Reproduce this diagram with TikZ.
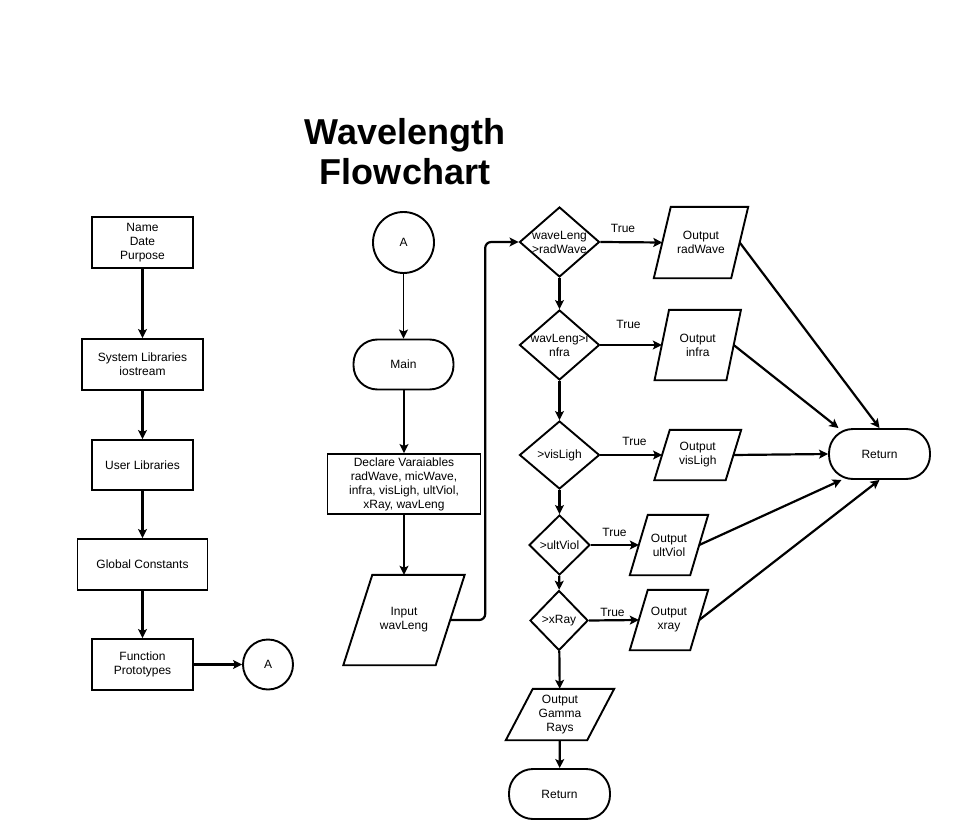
\documentclass[tikz,border=0pt]{standalone}
\usepackage{fontspec}
\setmainfont{Liberation Sans}
\usetikzlibrary{shapes.geometric,arrows.meta,calc}
\begin{document}
\begin{tikzpicture}[x=1pt,y=-1pt,
  every node/.style={font=\fontsize{12}{14}\selectfont, align=center},
  ln/.style={line width=1.9pt},
  box/.style={draw, ln, rectangle, inner sep=0pt},
  term/.style={draw, ln, rounded corners=24pt, minimum width=101pt, minimum height=50pt, inner sep=0pt},
  conn/.style={draw, ln, circle, inner sep=0pt},
  dec/.style={draw, ln, diamond, inner sep=0pt},
  io/.style={rectangle, inner sep=0pt},
  arr/.style={line width=2.2pt, -{Stealth[length=9pt,width=9pt,inset=2pt]}},
  lbl/.style={inner sep=0pt},
]
\path[fill=white, use as bounding box] (0,0) rectangle (956,840);

% title
\node[font=\bfseries\fontsize{36}{40}\selectfont] (title) at (405,152) {Wavelength\\Flowchart};

% left column
\node[box, minimum width=101pt, minimum height=51pt] (name) at (142.5,242.5) {Name\\Date\\Purpose};
\node[box, minimum width=121pt, minimum height=51pt] (sys) at (142.5,364.5) {System Libraries\\iostream};
\node[box, minimum width=101pt, minimum height=50pt] (usr) at (142.5,465) {User Libraries};
\node[box, minimum width=130pt, minimum height=51pt] (glob) at (142.5,564.5) {Global Constants};
\node[box, minimum width=101pt, minimum height=51pt] (func) at (142.5,664.5) {Function\\Prototypes};
\node[conn, minimum size=50pt] (a1) at (268,664.5) {A};

\draw[arr] (name) -- (sys);
\draw[arr] (sys) -- (usr);
\draw[arr] (usr) -- (glob);
\draw[arr] (glob) -- (func);
\draw[arr] (func) -- (a1);

% middle column
\node[conn, minimum size=61pt] (a2) at (403.5,242.5) {A};
\node[term, minimum width=100pt] (main) at (403.5,364.5) {Main};
\node[box, minimum width=153pt, minimum height=60pt] (decl) at (404,484) {Declare Varaiables\\radWave, micWave,\\infra, visLigh, ultViol,\\xRay, wavLeng};
\node[io, minimum width=92pt, minimum height=90pt] (inp) at (404,620) {Input\\wavLeng};

\draw[arr, line width=1.7pt] (a2) -- (main);
\draw[arr] (main.south -| decl) -- (decl);
\draw[arr] (decl) -- (inp);

% decisions
\node[dec, minimum width=80pt, minimum height=70pt, label={center:waveLeng\\>radWave}] (d1) at (559.5,242) {};
\node[dec, minimum width=80pt, minimum height=70pt, label={center:wavLeng>i\\nfra}] (d2) at (559.5,345) {};
\node[dec, minimum width=80pt, minimum height=68pt, label={center:>visLigh}] (d3) at (559.5,455) {};
\node[dec, minimum width=61pt, minimum height=60pt, label={center:>ultViol}] (d4) at (559.5,545) {};
\node[dec, minimum width=58pt, minimum height=60pt, label={center:>xRay}] (d5) at (559,620.5) {};

% outputs
\node[io, minimum width=77pt, minimum height=71pt] (o1) at (701,242.5) {Output\\radWave};
\node[io, minimum width=71.5pt, minimum height=70pt] (o2) at (697.75,345) {Output\\infra};
\node[io, minimum width=71pt, minimum height=50pt] (o3) at (697.75,455) {Output\\visLigh};
\node[io, minimum width=60pt, minimum height=60pt] (o4) at (669,545) {Output\\ultViol};
\node[io, minimum width=60pt, minimum height=60pt] (o5) at (669,620) {Output\\xray};
\node[io, minimum width=81pt, minimum height=51pt] (og) at (560,714.5) {Output\\Gamma\\Rays};

\node[term] (ret2) at (559.5,794) {Return};
\node[term] (ret) at (879.5,454) {Return};

% parallelogram outlines
\foreach \n/\s in {inp/29, o1/17, o2/14.5, o3/15.5, o4/18, o5/18, og/27}
  \draw[ln] ($(\n.north west)+(\s/2,0)$) -- ($(\n.north east)+(\s/2,0)$)
    -- ($(\n.south east)+(-\s/2,0)$) -- ($(\n.south west)+(-\s/2,0)$) -- cycle;

% main flow
\draw[arr, rounded corners=6pt] (inp.east) -- ++(35,0) |- (d1.west);
\draw[arr] (d1) -- (d2);
\draw[arr] (d2) -- (d3);
\draw[arr] (d3) -- (d4);
\draw[arr] (d4) -- (d5);
\draw[arr] (d5) -- (og);
\draw[arr] (og) -- (ret2);

% true branches
\draw[arr] (d1.east) -- (o1.west);
\draw[arr] (d2.east) -- (o2.west);
\draw[arr] (d3.east) -- (o3.west);
\draw[arr] (d4.east) -- (o4.west);
\draw[arr] (d5.east) -- (o5.west);
\node[lbl] (t1) at (623,228) {True};
\node[lbl] (t2) at (628.5,324) {True};
\node[lbl] (t3) at (634.5,441) {True};
\node[lbl] (t4) at (614.5,532) {True};
\node[lbl] (t5) at (612.5,612.5) {True};

% to return
\draw[arr] (o1.east) -- (ret.north);
\draw[arr] (o2.east) -- ($(ret.north)+(-41,0)$);
\draw[arr] (o3.east) -- (ret.west);
\draw[arr] (o4.east) -- ($(ret.south)+(-38,0)$);
\draw[arr] (o5.east) -- (ret.south);
\end{tikzpicture}
\end{document}
